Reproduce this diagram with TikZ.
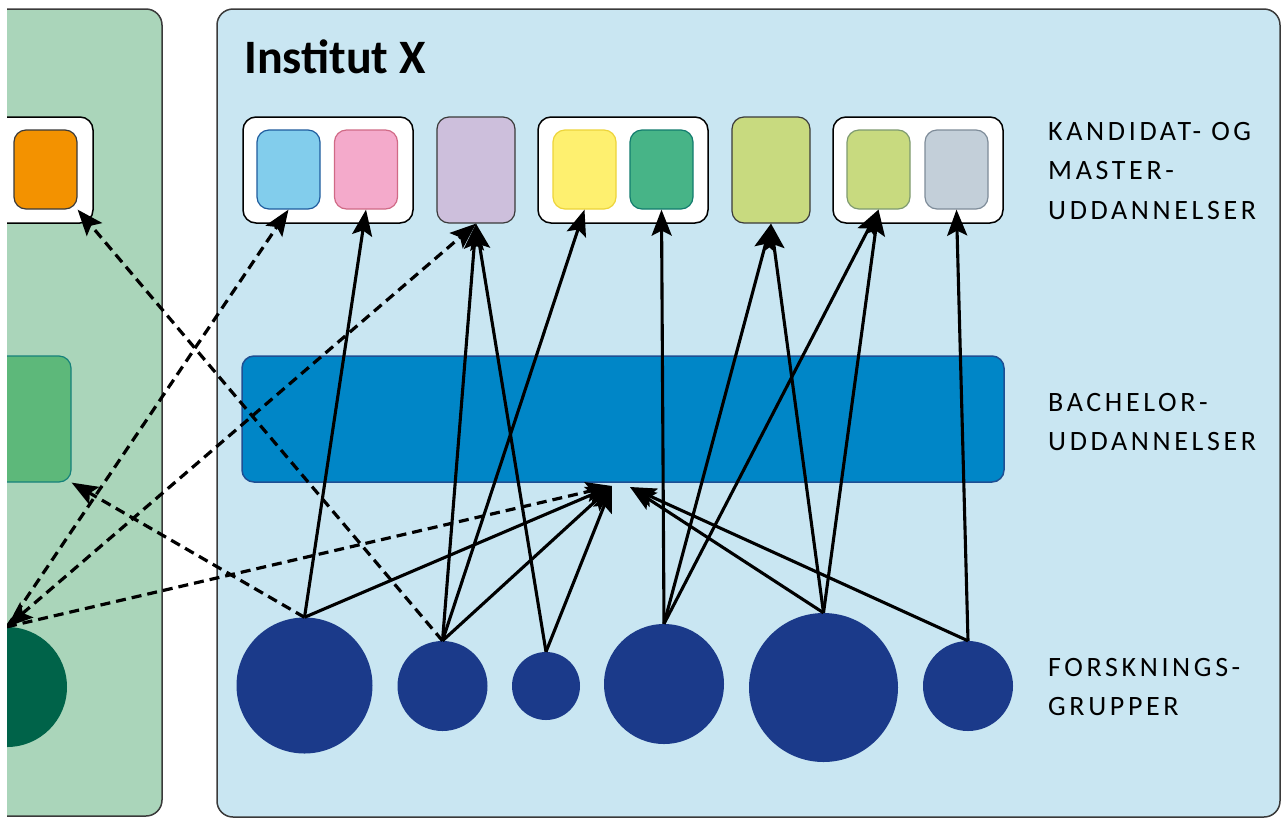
\documentclass[tikz,border=0pt]{standalone}
\usepackage{fontspec}
\setmainfont{Carlito}
\newfontfamily\labelfont[LetterSpace=13]{Carlito}
\usetikzlibrary{arrows.meta}

\definecolor{panelgreen}{HTML}{AAD5BA}
\definecolor{panelblue}{HTML}{C9E6F2}
\definecolor{frame}{HTML}{3A3A3A}
\definecolor{progblue}{HTML}{82CDEC}
\definecolor{progblueline}{HTML}{1F5C9E}
\definecolor{progpink}{HTML}{F4AACB}
\definecolor{progpinkline}{HTML}{D06A86}
\definecolor{progpurple}{HTML}{CDBFDC}
\definecolor{progyellow}{HTML}{FEF06F}
\definecolor{progyellowline}{HTML}{EDD43A}
\definecolor{progteal}{HTML}{47B487}
\definecolor{progtealline}{HTML}{127C6E}
\definecolor{proglime}{HTML}{C8DA7F}
\definecolor{proglimeline}{HTML}{7E9A70}
\definecolor{proggray}{HTML}{C3CFD9}
\definecolor{proggrayline}{HTML}{7E8C99}
\definecolor{progorange}{HTML}{F39200}
\definecolor{bsc}{HTML}{0086C7}
\definecolor{bscline}{HTML}{1E4F93}
\definecolor{oldgreen}{HTML}{5DB87A}
\definecolor{oldgreenline}{HTML}{15817A}
\definecolor{navy}{HTML}{1B3A8A}
\definecolor{darkgreen}{HTML}{006349}

\tikzset{
  panel/.style={draw=frame, line width=1.5pt, rounded corners=16pt},
  groupbox/.style={draw=black, fill=white, line width=1.5pt, rounded corners=13pt,
    minimum height=106pt, inner sep=0pt},
  prog/.style={rounded corners=12pt, minimum width=63pt, minimum height=79pt,
    line width=1.2pt, inner sep=0pt},
  solo/.style={prog, draw=frame, minimum width=78pt, minimum height=106pt},
  rgroup/.style={circle, fill=navy, inner sep=0pt},
  tip/.style={-{Stealth[length=26pt,width=20pt,inset=5pt]}},
  link/.style={line width=3.1pt, tip},
  dlink/.style={line width=3.2pt, tip, dash pattern=on 10pt off 6pt},
  lbl/.style={anchor=west, align=left, inner sep=0pt,
    font=\labelfont\fontsize{28}{39.5}\selectfont},
}

\begin{document}
\begin{tikzpicture}[x=1pt,y=-1pt]
\useasboundingbox (0,0) rectangle (1282,820);
\begin{scope}
\clip (7,0) rectangle (1282,820);

% faculty panels
\draw[panel, fill=panelgreen] (-40,9) rectangle (162,816);
\draw[panel, fill=panelblue] (217,9) rectangle (1280,817);

% neighbouring institute
\node[groupbox, minimum width=143pt] (ogrp) at (21.5,170) {};
\node[prog, fill=progorange, draw=frame] (orange) at (45.5,169.5) {};
\node[prog, fill=oldgreen, draw=oldgreenline, minimum width=111pt, minimum height=126pt]
  (oldbsc) at (15.5,419) {};
\node[circle, fill=darkgreen, inner sep=0pt, minimum size=120pt] (c0) at (7,687) {};

% master programmes
\node[groupbox, minimum width=170pt] (grp1) at (328,170) {};
\node[prog, fill=progblue, draw=progblueline] (blue) at (288.5,169.5) {};
\node[prog, fill=progpink, draw=progpinkline] (pink) at (366,169.5) {};
\node[solo, fill=progpurple] (purple) at (476,170) {};
\node[groupbox, minimum width=170pt] (grp2) at (623,170) {};
\node[prog, fill=progyellow, draw=progyellowline] (yellow) at (584.5,169.5) {};
\node[prog, fill=progteal, draw=progtealline] (teal) at (661.5,169.5) {};
\node[solo, fill=proglime] (limesolo) at (771,170) {};
\node[groupbox, minimum width=170pt] (grp3) at (918,170) {};
\node[prog, fill=proglime, draw=proglimeline] (limein) at (878.5,169.5) {};
\node[prog, fill=proggray, draw=proggrayline] (gray) at (956.5,169.5) {};

% bachelor programmes
\node[rounded corners=12pt, fill=bsc, draw=bscline, line width=1.5pt, inner sep=0pt,
  minimum width=762pt, minimum height=126pt] (bach) at (623,419) {};
\coordinate (bL) at (612,486);
\coordinate (bR) at (630,487);

% research groups
\node[rgroup, minimum size=136pt] (c1) at (304.5,685.5) {};
\node[rgroup, minimum size=90pt]  (c2) at (442.5,686) {};
\node[rgroup, minimum size=68pt]  (c3) at (546,686) {};
\node[rgroup, minimum size=120pt] (c4) at (664,684) {};
\node[rgroup, minimum size=149pt] (c5) at (823.5,687.5) {};
\node[rgroup, minimum size=90pt]  (c6) at (968,686) {};

% teaching links
\draw[link] (c1.north) -- (pink.south);
\draw[link] (c1.north) -- (bL);
\draw[dlink] (c1.north) -- (oldbsc.south east);
\draw[link] (c2.north) -- (purple.south);
\draw[link] (c2.north) -- (yellow.south);
\draw[link] (c2.north) -- (bL);
\draw[dlink] (c2.north) -- (orange.south east);
\draw[link] (c3.north) -- (purple.south);
\draw[link] (c3.north) -- (bL);
\draw[link] (c4.north) -- (teal.south);
\draw[link] (c4.north) -- (limesolo.south);
\draw[link] (c4.north) -- (limein.south);
\draw[link] (c5.north) -- (limesolo.south);
\draw[link] (c5.north) -- (limein.south);
\draw[link] (c5.north) -- (bR);
\draw[link] (c6.north) -- (gray.south);
\draw[link] (c6.north) -- (bR);
\draw[dlink] (c0.north) -- (blue.south);
\draw[dlink, {Stealth[length=26pt,width=20pt,inset=5pt]}-{Stealth[length=26pt,width=20pt,inset=5pt]}]
  (c0.north) -- (purple.south);
\draw[dlink] (c0.north) -- (bL);
\end{scope}

% texts
\node[anchor=base west, inner sep=0pt, font=\fontsize{48}{56}\selectfont\bfseries]
  (title) at (244,73) {Institut X};
\node[lbl] (lmaster) at (1048,171) {KANDIDAT- OG\\MASTER-\\UDDANNELSER};
\node[lbl] (lbach) at (1048,422) {BACHELOR-\\UDDANNELSER};
\node[lbl] (lforsk) at (1048,687) {FORSKNINGS-\\GRUPPER};
\end{tikzpicture}
\end{document}
